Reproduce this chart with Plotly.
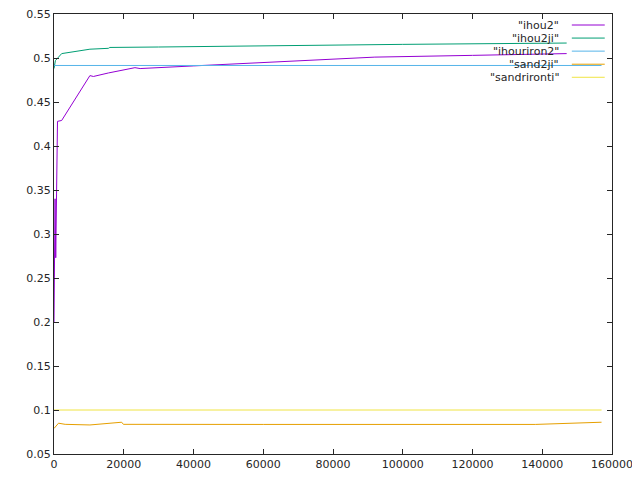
import plotly.graph_objects as go

# ---- data ----
names = ['"ihou2"', '"ihou2ji"', '"ihouriron2"', '"sand2ji"', '"sandrironti"']
colors = ["#9400d3", "#009e73", "#56b4e9", "#e69f00", "#f0e442"]

ihou2_x = [0, 150, 300, 500, 700, 1000, 2200, 10300, 11300, 15600, 23200, 24700,
           40000, 60000, 80000, 92000, 120000, 147000]
ihou2_y = [0.200, 0.290, 0.340, 0.273, 0.350, 0.428, 0.429, 0.480, 0.479, 0.483, 0.489, 0.488,
           0.491, 0.495, 0.499, 0.501, 0.503, 0.505]

ihou2ji_x = [0, 400, 2200, 10300, 15600, 16000, 30000, 60000, 100000, 147000]
ihou2ji_y = [0.488, 0.497, 0.505, 0.510, 0.511, 0.512, 0.5125, 0.514, 0.5155, 0.517]

ihouriron2_x = [0, 157000]
ihouriron2_y = [0.4915, 0.4915]

sand2ji_x = [0, 1300, 3200, 10300, 19400, 19900, 60000, 100000, 138000, 157000]
sand2ji_y = [0.079, 0.085, 0.0837, 0.0830, 0.0861, 0.0837, 0.0836, 0.0835, 0.0836, 0.0861]

sandrironti_x = [0, 157000]
sandrironti_y = [0.100, 0.100]

x_ticks = [0, 20000, 40000, 60000, 80000, 100000, 120000, 140000, 160000]
y_ticks = [0.05, 0.1, 0.15, 0.2, 0.25, 0.3, 0.35, 0.4, 0.45, 0.5, 0.55]

series = [
    (ihou2_x, ihou2_y),
    (ihou2ji_x, ihou2ji_y),
    (ihouriron2_x, ihouriron2_y),
    (sand2ji_x, sand2ji_y),
    (sandrironti_x, sandrironti_y),
]

FONT = "DejaVu Sans"
AXC = "#262626"

fig = go.Figure()
for (xs, ys), name, c in zip(series, names, colors):
    fig.add_trace(go.Scatter(x=xs, y=ys, mode="lines", name=name,
                             line=dict(color=c, width=1), showlegend=False))

# custom gnuplot-style legend: text right-aligned, sample to the right
legend_top = 0.975
row_h = 0.0297
for i, (name, c) in enumerate(zip(names, colors)):
    yy = legend_top - i * row_h
    fig.add_annotation(x=0.909, y=yy, xref="paper", yref="paper", text=name,
                       showarrow=False, xanchor="right", yanchor="middle",
                       font=dict(family=FONT, size=11, color=AXC))
    fig.add_shape(type="line", xref="paper", yref="paper",
                  x0=0.928, x1=0.987, y0=yy, y1=yy,
                  line=dict(color=c, width=1))

axis_common = dict(showgrid=False, zeroline=False, showline=True, linecolor=AXC,
                   linewidth=1, mirror="ticks", ticks="inside", ticklen=5,
                   tickcolor=AXC, automargin=False, ticklabeloverflow="allow",
                   tickfont=dict(family=FONT, size=11, color=AXC))

fig.update_xaxes(range=[0, 160000], tickvals=x_ticks,
                 ticktext=[str(v) for v in x_ticks], **axis_common)
fig.update_yaxes(range=[0.05, 0.55], tickvals=y_ticks,
                 ticktext=[f"{v:g}" for v in y_ticks], **axis_common)

# page body adds an 8px offset; margins compensate so the plot box sits at 54..612 x 14..454
fig.update_layout(width=640, height=480, plot_bgcolor="white", paper_bgcolor="white",
                  margin=dict(l=46, r=36, t=6, b=34, pad=0),
                  font=dict(family=FONT, size=11, color=AXC))

fig.write_html("out.html")
